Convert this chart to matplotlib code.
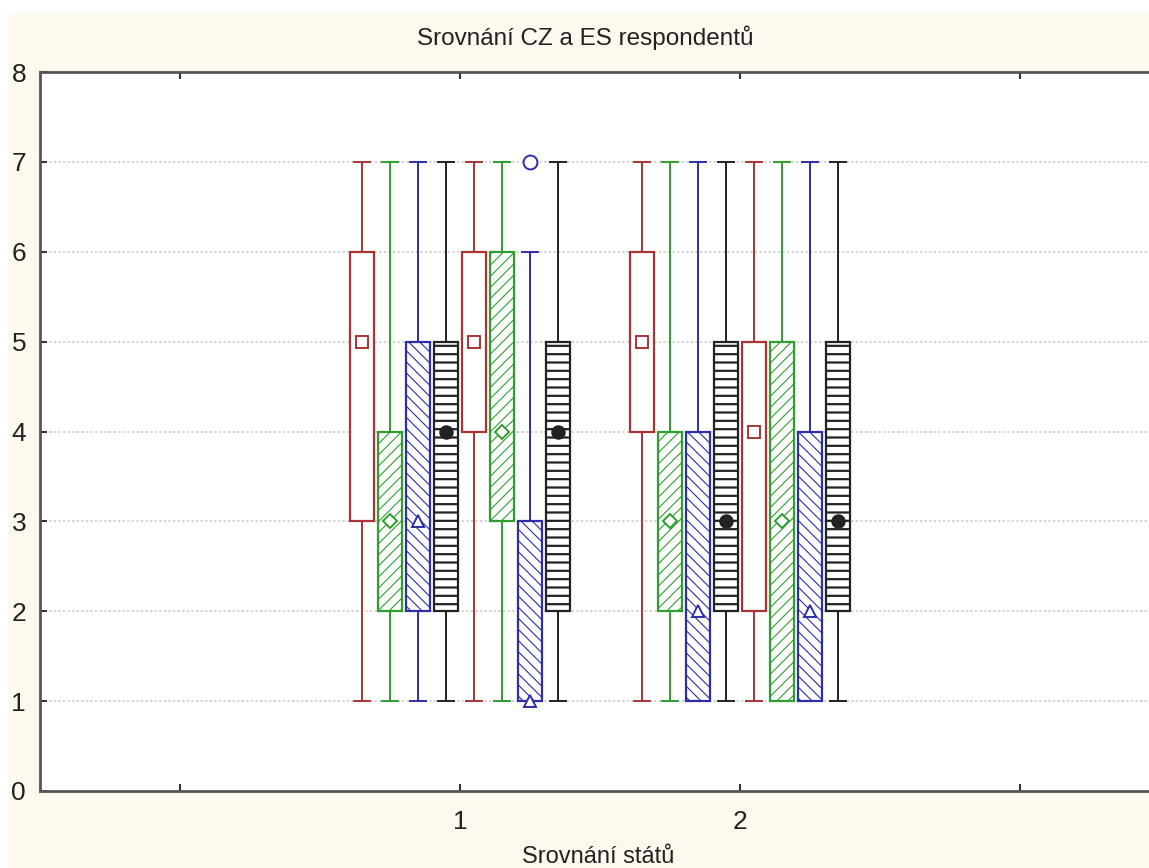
#!/usr/bin/env python3

"""Box plot comparing CZ and ES respondents, STATISTICA style."""

import matplotlib
matplotlib.use("Agg")
from matplotlib import pyplot as plt
from matplotlib.patches import Rectangle

plt.rcParams['font.family'] = ['Liberation Sans', 'DejaVu Sans']

# two comparison groups, eight variables each (four styles repeated)
groups = [1, 2]
q1 = [[3, 2, 2, 2, 4, 3, 1, 2],
      [4, 2, 1, 2, 2, 1, 1, 2]]
medians = [[5, 3, 3, 4, 5, 4, 1, 4],
           [5, 3, 2, 3, 4, 3, 2, 3]]
q3 = [[6, 4, 5, 5, 6, 6, 3, 5],
      [6, 4, 4, 5, 5, 5, 4, 5]]
whisk_lo = [[1, 1, 1, 1, 1, 1, 1, 1],
            [1, 1, 1, 1, 1, 1, 1, 1]]
whisk_hi = [[7, 7, 7, 7, 7, 7, 6, 7],
            [7, 7, 7, 7, 7, 7, 7, 7]]
outliers = [[[], [], [], [], [], [], [7], []],
            [[], [], [], [], [], [], [], []]]

offsets = [-0.35, -0.25, -0.15, -0.05, 0.05, 0.15, 0.25, 0.35]

RED = '#a83434'
GREEN = '#2f9e2f'
BLUE = '#2e2ea8'
BLACK = '#222222'

# colour, hatch, hatch width, median marker, marker face, marker size
styles = [
    (RED, '', 1.0, 's', 'white', 9),
    (GREEN, '///', 0.8, 'D', 'white', 7),
    (BLUE, '\\\\\\', 0.8, '^', 'white', 8),
    (BLACK, '--', 1.6, 'o', BLACK, 9),
]

fig = plt.figure(figsize=(11.49, 8.68), dpi=100)
fig.patch.set_facecolor('white')
fig.add_artist(Rectangle((8 / 1149, 0), 1, 1 - 13 / 868, transform=fig.transFigure,
                         facecolor='#fdf9ef', edgecolor='none', zorder=-10))

ax = fig.add_axes([40 / 1149, 1 - 791 / 868, (1149 - 40) / 1149, (791 - 72) / 868])
ax.set_facecolor('white')

for g, center in enumerate(groups):
    for i, off in enumerate(offsets):
        color, hatch, hlw, marker, mface, msize = styles[i % 4]
        stats = [dict(med=medians[g][i], q1=q1[g][i], q3=q3[g][i],
                      whislo=whisk_lo[g][i], whishi=whisk_hi[g][i],
                      fliers=outliers[g][i])]
        pos = center + off
        with plt.rc_context({'hatch.linewidth': hlw}):
            ax.bxp(stats, positions=[pos], widths=0.085, capwidths=0.058,
                   patch_artist=True, manage_ticks=False,
                   boxprops=dict(facecolor='white', edgecolor=color,
                                 linewidth=1.6, hatch=hatch),
                   whiskerprops=dict(color=color, linewidth=1.4),
                   capprops=dict(color=color, linewidth=1.4),
                   medianprops=dict(linestyle='none'),
                   flierprops=dict(marker='o', markersize=10,
                                   markerfacecolor='white',
                                   markeredgecolor=color,
                                   markeredgewidth=1.4))
        ax.plot([pos], [medians[g][i]], linestyle='none', marker=marker,
                markersize=msize, markerfacecolor=mface, markeredgecolor=color,
                markeredgewidth=1.4, zorder=5)

ax.set_xlim(-0.5, 3.46)
ax.set_ylim(0, 8)
ax.set_xticks([0, 1, 2, 3])
ax.set_xticklabels(['', '1', '2', ''])
ax.set_yticks(range(9))
ax.tick_params(direction='in', length=5, width=1.5, colors='#333333',
               labelsize=19, top=True, pad=10)
ax.tick_params(axis='x', pad=14)
for label in ax.get_xticklabels() + ax.get_yticklabels():
    label.set_color('#222222')

for y in range(1, 8):
    ax.axhline(y, color='#c8c8c8', linestyle=(0, (1.5, 1.5)), linewidth=1.1, zorder=0)

for side in ['left', 'bottom', 'top']:
    ax.spines[side].set_color('#555555')
    ax.spines[side].set_linewidth(2)
ax.spines['right'].set_visible(False)

fig.text(585 / 1149, 1 - 38 / 868, 'Srovnání CZ a ES respondentů',
         ha='center', va='center', fontsize=17.5, color='#222222')
fig.text(598 / 1149, 1 - 857 / 868, 'Srovnání států',
         ha='center', va='center', fontsize=17, color='#222222')

fig.savefig('out.png', dpi=100, facecolor=fig.get_facecolor())
